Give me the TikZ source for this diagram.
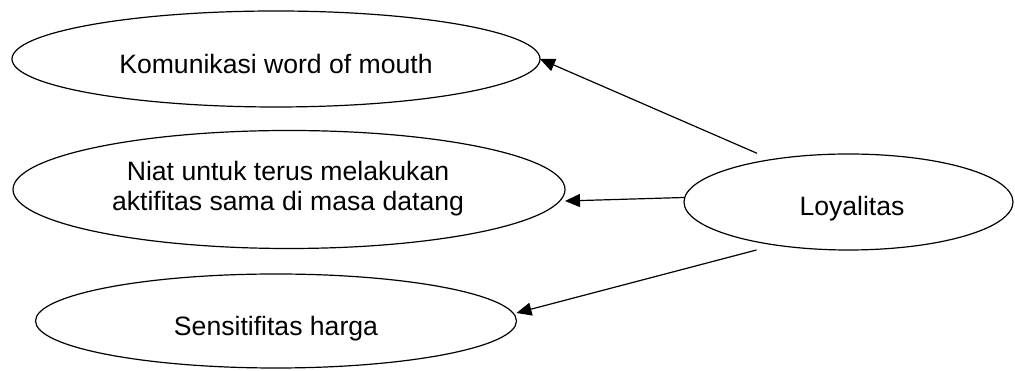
\documentclass[tikz,border=0pt]{standalone}
\usepackage{fontspec}
\setmainfont{Liberation Sans}
\usetikzlibrary{shapes.geometric,arrows.meta}

\begin{document}
\begin{tikzpicture}[x=1pt,y=1pt,
  oval/.style={ellipse,draw=black,line width=1.2pt,inner sep=0pt,outer sep=0pt},
  label/.style={font=\fontsize{26.6}{29.7}\selectfont,inner sep=0pt,anchor=base,align=center},
  arr/.style={line width=1.2pt,-{Triangle[length=15pt,width=13pt]}}]
  \useasboundingbox (0,0) rectangle (1015,371);

  % indicator ellipses
  \node[oval,minimum width=528pt,minimum height=96pt]  (kom)  at (276,312)   {};
  \node[oval,minimum width=552pt,minimum height=118pt] (niat) at (289,181.5) {};
  \node[oval,minimum width=481pt,minimum height=94pt]  (sens) at (276,50)    {};
  % construct ellipse
  \node[oval,minimum width=329pt,minimum height=96pt]  (loy)  at (848.5,169) {};

  % texts (base anchor of a two-line node sits on its last line)
  \node[label] (komtxt)  at (276,297.7) {Komunikasi word of mouth};
  \node[label] (niattxt) at (288,160.3) {Niat untuk terus melakukan\\aktifitas sama di masa datang};
  \node[label] (senstxt) at (276,35)    {Sensitifitas harga};
  \node[label] (loytxt)  at (852,155)   {Loyalitas};

  % connector end points
  \coordinate (s1) at ([xshift=-91.5pt,yshift=0.7pt]loy.north);
  \coordinate (s2) at ([yshift=4.5pt]loy.west);
  \coordinate (e2) at ([yshift=-11.5pt]niat.east);
  \coordinate (s3) at ([xshift=-92pt]loy.south);
  \coordinate (e3) at ([yshift=8pt]sens.east);

  \draw[arr] (s1) -- (kom.east);
  \draw[arr] (s2) -- (e2);
  \draw[arr] (s3) -- (e3);
\end{tikzpicture}
\end{document}
